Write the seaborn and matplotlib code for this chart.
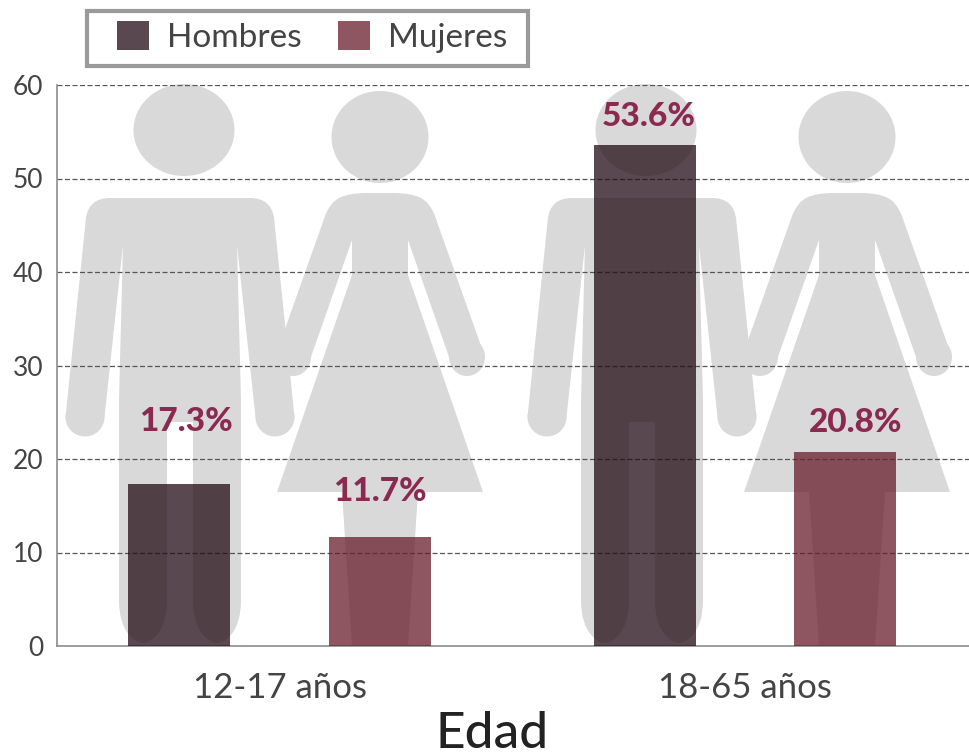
import numpy as np
import pandas as pd
import matplotlib
matplotlib.use("Agg")
import matplotlib.pyplot as plt
from matplotlib.path import Path
from matplotlib.patches import PathPatch, Ellipse, Rectangle
import seaborn as sns

# ---------- data ----------
age_groups = ["12-17 años", "18-65 años"]
sexes = ["Hombres", "Mujeres"]
hombres = [17.3, 53.6]
mujeres = [11.7, 20.8]
y_ticks = [0, 10, 20, 30, 40, 50, 60]

# ---------- styles ----------
BAR_COLORS = {"Hombres": (35/255, 11/255, 21/255), "Mujeres": (103/255, 29/255, 44/255)}
SIL = "#d9d9d9"
LABEL = "#8a2a50"
TXT = "#444444"
W, H = 969, 756

sns.set_theme(style="white")
plt.rcParams["font.family"] = ["Lato", "DejaVu Sans"]

fig = plt.figure(figsize=(W/100, H/100), dpi=100, facecolor="white")

# ---------- decorative silhouettes and legend frame, in pixel space ----------
bg = fig.add_axes([0, 0, 1, 1], zorder=0)
bg.set_xlim(0, W); bg.set_ylim(H, 0); bg.axis("off")

def rounded(points, radius):
    """closed polygon path with softly rounded corners; points are (x, y, r) or (x, y)"""
    verts, codes = [], []
    n = len(points)
    for i, p in enumerate(points):
        r = p[2] if len(p) > 2 else radius
        cur = np.array(p[:2], float)
        prv = np.array(points[i-1][:2], float)
        nxt = np.array(points[(i+1) % n][:2], float)
        a = cur + (prv-cur)/max(np.linalg.norm(prv-cur), 1e-6)*min(r, np.linalg.norm(prv-cur)/2)
        b = cur + (nxt-cur)/max(np.linalg.norm(nxt-cur), 1e-6)*min(r, np.linalg.norm(nxt-cur)/2)
        verts += [tuple(a), tuple(cur), tuple(b)]
        codes += [Path.MOVETO if i == 0 else Path.LINETO, Path.CURVE3, Path.CURVE3]
    verts.append(verts[0]); codes.append(Path.CLOSEPOLY)
    return Path(verts, codes)

def man(cx):
    bg.add_patch(Ellipse((cx+4, 130), 101, 92, color=SIL, lw=0))
    for sx in (-1, 1):
        bg.add_patch(Ellipse((cx+sx*95, 417), 39, 39, color=SIL, lw=0))
    half = [(-92, 198, 22), (-114.5, 417, 0), (-75.5, 417, 0),
            (-57, 245, 2), (-61, 400, 0), (-61, 625, 24), (-37, 649, 24), (-13, 625, 24), (-13, 422, 1)]
    right = [(-x, y, r) for x, y, r in reversed(half)]
    pts = [(cx+x, y, r) for x, y, r in half + right]
    bg.add_patch(PathPatch(rounded(pts, 5), fc=SIL, lw=0))

def woman(cx):
    bg.add_patch(Ellipse((cx, 137), 97, 92, color=SIL, lw=0))
    for sx in (-1, 1):
        bg.add_patch(Ellipse((cx+sx*87, 357), 36, 38, color=SIL, lw=0))
    half = [(-30, 193, 16), (-50, 202, 16), (-105, 357, 0), (-69, 357, 0),
            (-28, 240, 1), (-28, 275, 1), (-103, 492, 0), (-38, 492, 0), (-28, 646, 0)]
    right = [(-x, y, r) for x, y, r in reversed(half)]
    pts = [(cx+x, y, r) for x, y, r in half + right]
    bg.add_patch(PathPatch(rounded(pts, 4), fc=SIL, lw=0))

man(180); woman(380); man(642); woman(847)
bg.add_patch(Rectangle((87.5, 10.5), 441, 55, fc="white", ec="#9a9a9a", lw=3))

# ---------- chart ----------
ax = fig.add_axes([57/W, (H-646)/H, (W-57)/W, (646-85)/H], zorder=1)
ax.patch.set_visible(False)

df = pd.DataFrame({
    "Edad": age_groups * 2,
    "Sexo": [sexes[0]] * 2 + [sexes[1]] * 2,
    "Porcentaje": hombres + mujeres,
})
sns.barplot(data=df, x="Edad", y="Porcentaje", hue="Sexo", order=age_groups, hue_order=sexes,
            palette=BAR_COLORS, width=0.86, gap=0.49, alpha=0.75, saturation=1, linewidth=0,
            legend=True, ax=ax, zorder=3)

ax.set_xlim(-0.478, 1.481)
ax.set_ylim(0, 60)
ax.set_yticks(y_ticks)
ax.grid(axis="y", color="#555555", lw=0.9, ls=(0, (4, 2)), zorder=1)
ax.set_axisbelow(True)
ax.set_ylabel("")
for s in ["top", "right"]:
    ax.spines[s].set_visible(False)
for s in ["left", "bottom"]:
    ax.spines[s].set_color("#8c8c8c")
    ax.spines[s].set_linewidth(1.2)
ax.tick_params(axis="y", length=0, pad=10, labelsize=19, labelcolor=TXT)
ax.tick_params(axis="x", length=0, pad=19, labelsize=25, labelcolor=TXT)

ax.set_xlabel("Edad", fontsize=37, color="#222222", x=(492-57)/(W-57), labelpad=5, fontweight="medium")

# value labels, above each bar
label_shift_px = [(7, 63), (0, 45), (4, 28), (10, 29)]
patches = [p for c in ax.containers for p in c]
order = [patches[0], patches[2], patches[1], patches[3]]
for p, (dx, dy) in zip(order, label_shift_px):
    ax.annotate(f"{p.get_height():.1f}%", (p.get_x()+p.get_width()/2, p.get_height()),
                xytext=(dx*0.72, dy*0.72), textcoords="offset points", ha="center", va="center",
                fontsize=24, fontweight="black", color=LABEL, zorder=5)

# legend
handles, labels = ax.get_legend_handles_labels()
leg = ax.legend(handles, labels, ncols=2, loc="upper left", bbox_to_anchor=(117/W, 1-21/H),
                bbox_transform=fig.transFigure, borderaxespad=0, borderpad=0, frameon=False,
                fontsize=24, handlelength=0.95, handleheight=0.95, handletextpad=0.55,
                columnspacing=1.1, title=None)
for t in leg.get_texts():
    t.set_color(TXT)

fig.savefig("out.png", dpi=100)
